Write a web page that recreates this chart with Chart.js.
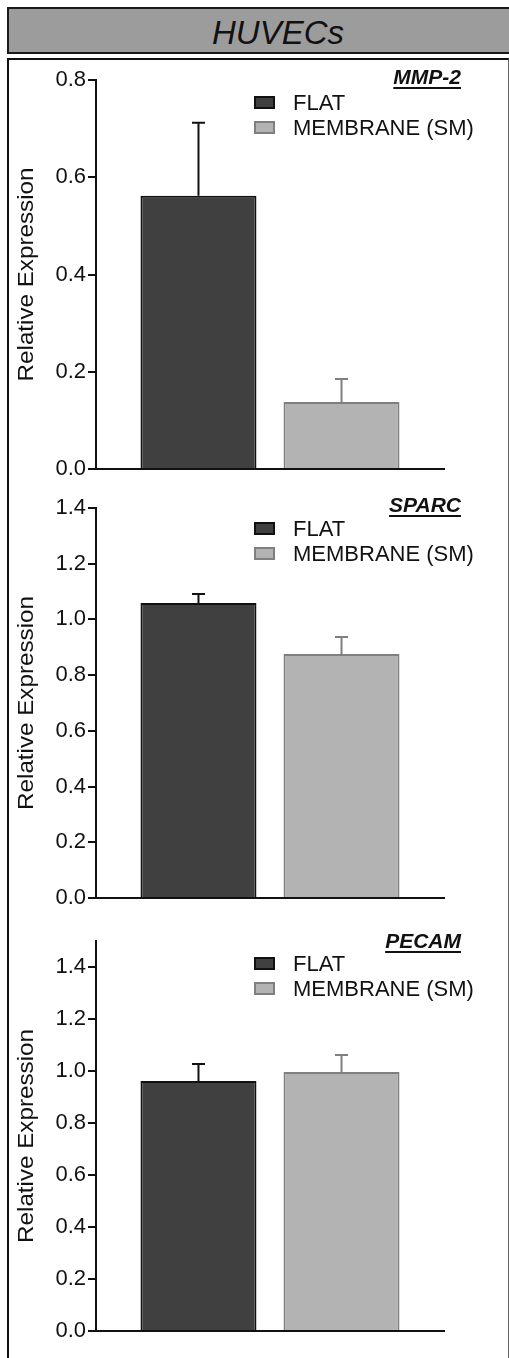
<!DOCTYPE html>
<html>
<head>
<meta charset="utf-8">
<title>HUVECs</title>
<script src="https://cdn.jsdelivr.net/npm/chart.js@4"></script>
<style>
    html, body { margin: 0; padding: 0; background: #fff; }
    body { width: 509px; height: 1358px; position: relative; overflow: hidden; font-family: "Liberation Sans", Arial, sans-serif; }
    #banner {
        position: absolute; left: 7px; top: 7px; width: 542px; height: 47px;
        box-sizing: border-box; border: 2px solid #1a1a1a; background: #9c9c9c;
        text-align: center; line-height: 47px; font-style: italic; font-size: 33px; color: #111;
    }
    #frame {
        position: absolute; left: 7px; top: 58px; width: 502px; height: 1320px;
        box-sizing: border-box; border-left: 2px solid #111; border-top: 2px solid #111; border-right: 1px solid #666;
    }
    canvas.panel { position: absolute; left: 10px; }
</style>
</head>
<body>
<div id="banner">HUVECs</div>
<div id="frame"></div>
<canvas class="panel" id="chart0"></canvas>
<canvas class="panel" id="chart1"></canvas>
<canvas class="panel" id="chart2"></canvas>
<script>
// ข้อมูลของกราฟ (อ่านค่าจากรูป)
const genes = ['MMP-2', 'SPARC', 'PECAM'];
const groups = ['FLAT', 'MEMBRANE (SM)'];
const flatMean = [0.562, 1.059, 0.962];
const flatErr = [0.150, 0.032, 0.065];
const membraneMean = [0.138, 0.876, 0.996];
const membraneErr = [0.047, 0.061, 0.066];
const yMax = [0.8, 1.4, 1.5];
const yTickMax = [0.8, 1.4, 1.4];
const yStep = 0.2;
const yTitle = 'Relative Expression';

// ตำแหน่งของแต่ละกราฟบนหน้า (canvas เริ่มที่ x = 10px)
const panelBox = [
    { top: 60, height: 430, padTop: 20, padBottom: 21 },
    { top: 490, height: 425, padTop: 18, padBottom: 17 },
    { top: 915, height: 443, padTop: 26, padBottom: 27 }
];

const FONT = '"Liberation Sans", Arial, sans-serif';
const fillColors = ['#404040', '#b3b3b3'];
const edgeColors = ['#111111', '#7f7f7f'];

// error bar (SEM) ด้านบนของแท่ง
const errorBarPlugin = {
    id: 'errorBars',
    afterDatasetsDraw(chart) {
        const ctx = chart.ctx;
        const y = chart.scales.y;
        chart.data.datasets.forEach((ds, i) => {
            const bar = chart.getDatasetMeta(i).data[0];
            const top = y.getPixelForValue(ds.data[0] + ds.errors[0]);
            ctx.save();
            ctx.strokeStyle = ds.borderColor;
            ctx.lineWidth = 2;
            ctx.beginPath();
            ctx.moveTo(bar.x, bar.y);
            ctx.lineTo(bar.x, top);
            ctx.moveTo(bar.x - 6.5, top);
            ctx.lineTo(bar.x + 6.5, top);
            ctx.stroke();
            ctx.restore();
        });
    }
};

// legend, ชื่อยีน และชื่อแกน y
const annotatePlugin = {
    id: 'annotate',
    afterDraw(chart) {
        const ctx = chart.ctx;
        const area = chart.chartArea;
        const opts = chart.options.plugins.annotate;
        ctx.save();

        // ชื่อยีน (ตัวหนา เอียง ขีดเส้นใต้)
        ctx.font = 'italic bold 21px ' + FONT;
        ctx.fillStyle = '#111';
        ctx.textAlign = 'right';
        ctx.textBaseline = 'alphabetic';
        const tx = area.right + 17;
        const ty = area.top + opts.titleOffset;
        ctx.fillText(opts.gene, tx, ty);
        const w = ctx.measureText(opts.gene).width;
        ctx.strokeStyle = '#111';
        ctx.lineWidth = 2;
        ctx.beginPath();
        ctx.moveTo(tx - w, ty + 4);
        ctx.lineTo(tx, ty + 4);
        ctx.stroke();

        // legend
        ctx.font = '22px ' + FONT;
        ctx.textAlign = 'left';
        chart.data.datasets.forEach((ds, i) => {
            const ry = area.top + opts.legendOffset + i * 25;
            ctx.fillStyle = ds.backgroundColor;
            ctx.fillRect(245, ry, 19, 11);
            ctx.strokeStyle = ds.borderColor;
            ctx.lineWidth = 2;
            ctx.strokeRect(245, ry, 19, 11);
            ctx.fillStyle = '#111';
            ctx.fillText(ds.label, 283, ry + 13);
        });

        // ชื่อแกน y (ยืดตามแนวยาวเหมือนต้นฉบับ)
        ctx.translate(17, (area.top + area.bottom) / 2);
        ctx.rotate(-Math.PI / 2);
        ctx.scale(1.1, 1);
        ctx.font = '22px ' + FONT;
        ctx.textAlign = 'center';
        ctx.textBaseline = 'middle';
        ctx.fillText(yTitle, 0, 0);
        ctx.restore();
    }
};

const renderPanel = (i) => {
    const box = panelBox[i];
    const canvas = document.getElementById('chart' + i);
    canvas.style.top = box.top + 'px';
    canvas.width = 490;
    canvas.height = box.height;
    canvas.style.width = '490px';
    canvas.style.height = box.height + 'px';

    // eslint-disable-next-line no-undef
    new Chart(canvas.getContext('2d'), {
        type: 'bar',
        data: {
            labels: [genes[i]],
            datasets: [
                { label: groups[0], data: [flatMean[i]], errors: [flatErr[i]],
                  backgroundColor: fillColors[0], borderColor: edgeColors[0], borderWidth: 2 },
                { label: groups[1], data: [membraneMean[i]], errors: [membraneErr[i]],
                  backgroundColor: fillColors[1], borderColor: edgeColors[1], borderWidth: 2 }
            ]
        },
        options: {
            responsive: false,
            animation: false,
            layout: { padding: { top: box.padTop, bottom: box.padBottom, left: 0, right: 56 } },
            datasets: { bar: { categoryPercentage: 0.822, barPercentage: 0.811 } },
            plugins: {
                legend: { display: false },
                tooltip: { enabled: false },
                annotate: { gene: genes[i], titleOffset: [4, 4, 7][i], legendOffset: [17, 15, 17][i] }
            },
            scales: {
                x: {
                    grid: { display: false, drawTicks: false },
                    ticks: { display: false },
                    border: { display: true, color: '#111', width: 2 },
                    afterFit: (s) => { s.height = 0; }
                },
                y: {
                    min: 0,
                    max: yMax[i],
                    grid: { drawOnChartArea: false, color: '#111', lineWidth: 2, tickLength: 8 },
                    border: { color: '#111', width: 2 },
                    ticks: {
                        stepSize: yStep,
                        color: '#111',
                        padding: 2,
                        font: { family: FONT, size: 22 },
                        callback: (v) => v.toFixed(1)
                    },
                    afterBuildTicks: (s) => { s.ticks = s.ticks.filter(t => t.value <= yTickMax[i] + 1e-9); },
                    afterFit: (s) => { s.width = 86; }
                }
            }
        },
        plugins: [errorBarPlugin, annotatePlugin]
    });
};

genes.forEach((g, i) => renderPanel(i));
</script>
</body>
</html>
